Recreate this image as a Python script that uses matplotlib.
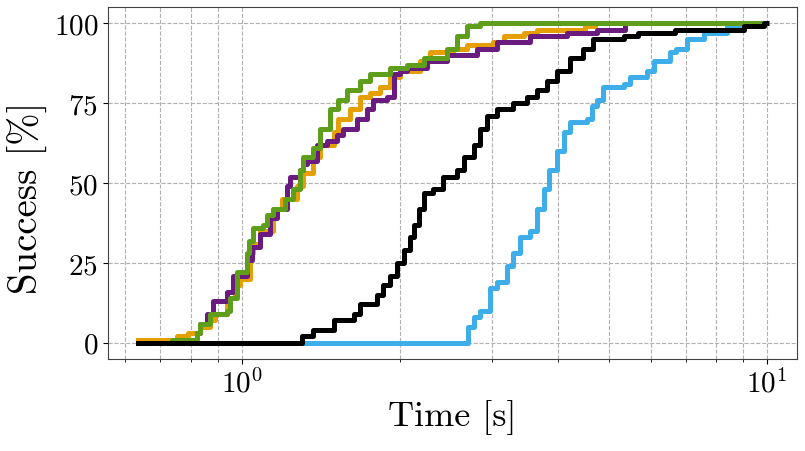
import matplotlib
matplotlib.use("Agg")
import matplotlib.pyplot as plt

plt.rcParams['font.family'] = 'serif'
plt.rcParams['font.serif'] = ['cmr10']
plt.rcParams['mathtext.fontset'] = 'cm'
plt.rcParams['axes.formatter.use_mathtext'] = True

# cumulative success curves (time in s, success in %)
orange_t = [0.634, 0.752, 0.791, 0.833, 0.870, 0.890, 0.936, 0.971, 0.993, 1.037, 1.052, 1.084,
            1.149, 1.192, 1.273, 1.310, 1.369, 1.410, 1.495, 1.528, 1.608, 1.680, 1.755, 1.834,
            1.916, 2.002, 2.186, 2.284, 2.529, 2.683, 3.014, 3.150, 3.44, 3.646, 4.51, 4.71]
orange_y = [1, 2, 3, 5, 7, 9, 14, 18, 20, 28, 31, 35,
            42, 45, 49, 53, 58, 62, 66, 70, 73, 77, 78, 80,
            83, 85, 88, 91, 92, 93, 94, 96, 97, 98, 99, 100]

purple_t = [0.634, 0.786, 0.821, 0.833, 0.858, 0.883, 0.936, 0.964, 1.022, 1.045, 1.084, 1.132,
            1.166, 1.218, 1.236, 1.291, 1.310, 1.330, 1.389, 1.452, 1.517, 1.561, 1.656, 1.730,
            1.781, 1.889, 1.945, 2.002, 2.062, 2.251, 2.458, 2.803, 3.06, 3.54, 4.16, 4.75, 5.37]
purple_y = [0, 1, 3, 6, 9, 13, 16, 21, 26, 30, 34, 39,
            42, 49, 52, 54, 56, 57, 62, 63, 65, 67, 70, 73,
            76, 77, 84, 85, 86, 88, 90, 92, 94, 96, 97, 98, 100]

green_t = [0.634, 0.736, 0.821, 0.833, 0.870, 0.936, 0.950, 0.978, 1.022, 1.030, 1.052, 1.099,
           1.116, 1.149, 1.209, 1.254, 1.291, 1.310, 1.369, 1.410, 1.473, 1.528, 1.585, 1.680,
           1.755, 1.916, 2.062, 2.218, 2.458, 2.568, 2.683, 2.844, 10.0]
green_y = [0, 1, 3, 6, 9, 10, 14, 22, 28, 32, 36, 37,
           40, 42, 45, 48, 54, 58, 61, 67, 73, 76, 79, 82,
           84, 86, 87, 89, 92, 96, 99, 100, 100]

black_t = [0.634, 1.301, 1.369, 1.495, 1.632, 1.680, 1.807, 1.861, 1.916, 1.973, 2.032, 2.092,
           2.123, 2.170, 2.218, 2.317, 2.421, 2.568, 2.644, 2.762, 2.844, 2.929, 3.06, 3.29,
           3.49, 3.646, 3.81, 3.98, 4.22, 4.47, 4.67, 5.33, 5.69, 6.69, 9.03, 9.85, 9.97]
black_y = [0, 2, 4, 7, 9, 12, 15, 18, 21, 25, 29, 33,
           37, 42, 47, 48, 52, 54, 58, 62, 67, 71, 73, 75,
           77, 79, 82, 85, 89, 92, 95, 96, 97, 98, 99, 100, 100]

blue_t = [0.634, 2.70, 2.762, 2.844, 2.972, 3.06, 3.20, 3.29, 3.389, 3.54, 3.646, 3.754,
          3.837, 3.98, 4.10, 4.22, 4.54, 4.64, 4.75, 4.88, 5.33, 5.49, 5.91, 6.08,
          6.53, 6.72, 7.04, 7.58, 8.4, 8.9, 10.0]
blue_y = [0, 5, 8, 10, 17, 19, 24, 28, 33, 35, 42, 48,
          54, 60, 66, 69, 70, 74, 76, 80, 81, 83, 85, 88,
          91, 92, 95, 97, 99, 100, 100]

fig = plt.figure(figsize=(8.05, 4.52), dpi=100)
ax = fig.add_axes([0.134, 0.204, 0.856, 0.778])

lw = 3.6
ax.plot(orange_t, orange_y, drawstyle='steps-post', color='#E69F00', lw=lw)
ax.plot(purple_t, purple_y, drawstyle='steps-post', color='#6A1B80', lw=lw)
ax.plot(blue_t, blue_y, drawstyle='steps-post', color='#3DAEEA', lw=lw)
ax.plot(green_t, green_y, drawstyle='steps-post', color='#5E9E1A', lw=lw)
ax.plot(black_t, black_y, drawstyle='steps-post', color='black', lw=lw)

ax.set_xscale('log')
ax.set_xlim(0.556, 11.4)
ax.set_ylim(-5, 105)
ax.set_yticks([0, 25, 50, 75, 100])

ax.set_axisbelow(True)
ax.grid(True, which='major', ls='--', color='#b0b0b0', lw=0.8)
ax.grid(True, which='minor', axis='x', ls='--', color='#b0b0b0', lw=0.8)

ax.tick_params(labelsize=21)
for s in ax.spines.values():
    s.set_color('0.25')

ax.set_xlabel('Time [s]', fontsize=26)
ax.set_ylabel('Success [%]', fontsize=28)
ax.xaxis.set_label_coords(0.5, -0.115)
ax.yaxis.set_label_coords(-0.087, 0.462)

fig.savefig('out.png', dpi=100)
